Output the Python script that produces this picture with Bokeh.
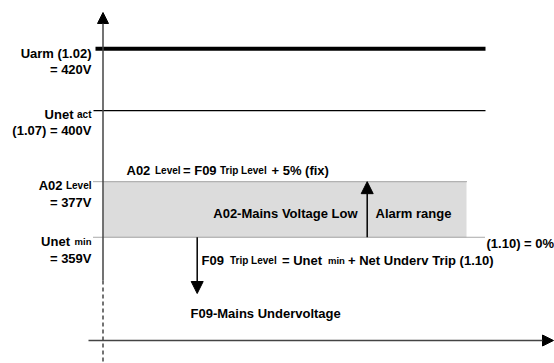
from bokeh.plotting import figure
from bokeh.models import Range1d, Arrow, NormalHead
from bokeh.core.properties import value
from bokeh.embed import file_html
from bokeh.resources import INLINE

# ---------------- data ----------------
uarm_v = 420        # Uarm (1.02)
unet_act_v = 400    # Unet act (1.07)
a02_level_v = 377   # A02 Level
unet_min_v = 359    # Unet min

# ---------------- layout helpers ----------------
W, H = 554, 363
SLOPE = 3.09  # px per volt


def V(ypix):
    """picture pixel row -> volts"""
    return 389 + (144.08 - ypix) / SLOPE


axis_v = V(340)     # horizontal time axis position

FONT = value("Liberation Sans")
MAIN = "13px"
SMALL = "10px"

p = figure(width=W, height=H, output_backend="svg", toolbar_location=None,
           x_range=Range1d(0, W), y_range=Range1d(V(H), V(0)),
           min_border=0, outline_line_color=None, background_fill_color="white")
p.axis.visible = False
p.grid.visible = False

# alarm band
p.quad(left=[103], right=[466], bottom=[unet_min_v], top=[a02_level_v],
       fill_color="#dcdcdc", line_color=None)

# level lines
p.segment(x0=[95], x1=[485], y0=[uarm_v], y1=[uarm_v], line_color="black", line_width=4)
p.segment(x0=[93], x1=[485], y0=[unet_act_v], y1=[unet_act_v], line_color="black", line_width=1.3)
p.segment(x0=[93], x1=[466], y0=[a02_level_v], y1=[a02_level_v], line_color="#555555",
          line_width=1, line_dash="1 1")
p.segment(x0=[93], x1=[485], y0=[unet_min_v], y1=[unet_min_v], line_color="#555555",
          line_width=1, line_dash="1 1")

# axes
y_axis_split = V(280)
p.add_layout(Arrow(x_start=102.5, y_start=y_axis_split, x_end=102.5, y_end=V(12),
                   line_color="#444444", line_width=1.5,
                   end=NormalHead(size=11, fill_color="black", line_color="black")))
p.segment(x0=[102.5], x1=[102.5], y0=[y_axis_split], y1=[V(365)], line_color="#444444",
          line_width=1.5, line_dash="4 3")
p.add_layout(Arrow(x_start=88, y_start=axis_v, x_end=553, y_end=axis_v,
                   line_color="#444444", line_width=1.5,
                   end=NormalHead(size=11, fill_color="black", line_color="black")))

# alarm range arrow (up) and trip arrow (down)
p.add_layout(Arrow(x_start=366.7, y_start=unet_min_v, x_end=366.7, y_end=a02_level_v,
                   line_color="black", line_width=1.5,
                   end=NormalHead(size=12, fill_color="black", line_color="black")))
p.add_layout(Arrow(x_start=196.7, y_start=unet_min_v, x_end=196.7, y_end=V(293),
                   line_color="black", line_width=1.5,
                   end=NormalHead(size=12, fill_color="black", line_color="black")))


def txt(x, ypix, s, size=MAIN, align="left"):
    p.text(x=[x], y=[V(ypix)], text=[s], text_font=FONT, text_font_style="bold",
           text_font_size=size, text_align=align, text_baseline="alphabetic",
           text_color="black")


# left labels
txt(91, 52.5, "Uarm (1.02)", align="right")
txt(91, 68.5, "= %dV" % uarm_v, align="right")
txt(73, 113.5, "Unet", align="right")
txt(91, 113.5, "act", SMALL, align="right")
txt(91, 129.5, "(1.07) = %dV" % unet_act_v, align="right")
txt(62, 184.5, "A02", align="right")
txt(91, 184.5, "Level", SMALL, align="right")
txt(91, 201.5, "= %dV" % a02_level_v, align="right")
txt(69.5, 241, "Unet", align="right")
txt(91, 241, "min", "9.5px", align="right")
txt(91, 257.5, "= %dV" % unet_min_v, align="right")

# top formula
txt(126, 169.5, "A02")
txt(154.5, 169.5, "Level", SMALL)
txt(182.5, 169.5, "= F09")
txt(219.5, 169.5, "Trip Level", SMALL)
txt(271, 169.5, "+ 5% (fix)")

# band texts
txt(357, 213, "A02-Mains Voltage Low", align="right")
txt(375, 213, "Alarm range")
txt(486, 243, "(1.10) = 0%")

# trip formula
txt(201, 260, "F09")
txt(229.5, 260, "Trip Level", SMALL)
txt(281.5, 260, "= Unet")
txt(327.5, 260, "min", "9.5px")
txt(347.5, 260, "+ Net Underv Trip (1.10)")

txt(190, 313, "F09-Mains Undervoltage")

open("out.html", "w").write(file_html(p, INLINE))
